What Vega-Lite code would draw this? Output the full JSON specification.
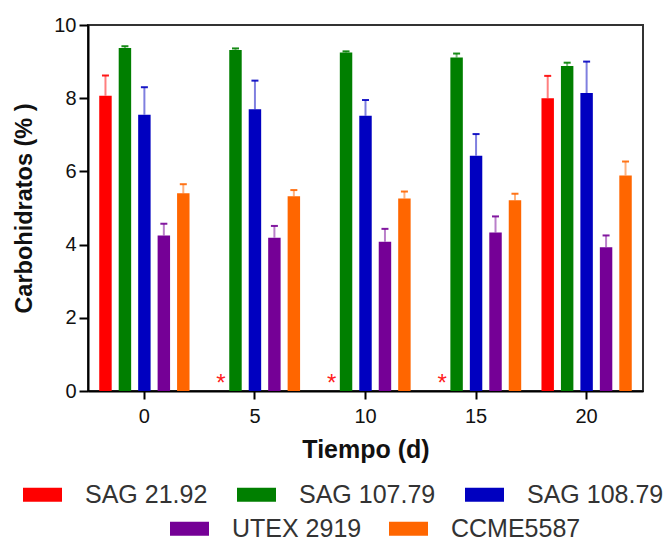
{
  "$schema": "https://vega.github.io/schema/vega-lite/v6.json",
  "width": 555,
  "height": 366,
  "autosize": {"type": "none"},
  "padding": {"left": 88, "top": 25, "right": 27, "bottom": 152},
  "background": "white",
  "config": {
    "font": "Liberation Sans",
    "view": {"stroke": "#333333", "strokeWidth": 2},
    "axis": {"grid": false, "domainColor": "#000000", "domainWidth": 2, "tickColor": "#000000", "tickWidth": 2, "labelColor": "#111111", "titleColor": "#111111", "labelFont": "Liberation Sans", "titleFont": "Liberation Sans"},
    "legend": {"labelFont": "Liberation Sans", "labelFontSize": 25, "labelColor": "#333333"}
  },
  "datasets": {
    "carb": [
      {"dia": 0, "cepa": "SAG 21.92", "valor": 8.07, "sup": 8.62},
      {"dia": 0, "cepa": "SAG 107.79", "valor": 9.37, "sup": 9.42},
      {"dia": 0, "cepa": "SAG 108.79", "valor": 7.55, "sup": 8.30},
      {"dia": 0, "cepa": "UTEX 2919", "valor": 4.25, "sup": 4.57},
      {"dia": 0, "cepa": "CCME5587", "valor": 5.40, "sup": 5.65},
      {"dia": 5, "cepa": "SAG 107.79", "valor": 9.32, "sup": 9.36},
      {"dia": 5, "cepa": "SAG 108.79", "valor": 7.70, "sup": 8.48},
      {"dia": 5, "cepa": "UTEX 2919", "valor": 4.19, "sup": 4.51},
      {"dia": 5, "cepa": "CCME5587", "valor": 5.32, "sup": 5.49},
      {"dia": 10, "cepa": "SAG 107.79", "valor": 9.25, "sup": 9.28},
      {"dia": 10, "cepa": "SAG 108.79", "valor": 7.52, "sup": 7.95},
      {"dia": 10, "cepa": "UTEX 2919", "valor": 4.08, "sup": 4.43},
      {"dia": 10, "cepa": "CCME5587", "valor": 5.26, "sup": 5.45},
      {"dia": 15, "cepa": "SAG 107.79", "valor": 9.11, "sup": 9.22},
      {"dia": 15, "cepa": "SAG 108.79", "valor": 6.43, "sup": 7.02},
      {"dia": 15, "cepa": "UTEX 2919", "valor": 4.33, "sup": 4.77},
      {"dia": 15, "cepa": "CCME5587", "valor": 5.21, "sup": 5.39},
      {"dia": 20, "cepa": "SAG 21.92", "valor": 8.00, "sup": 8.61},
      {"dia": 20, "cepa": "SAG 107.79", "valor": 8.88, "sup": 8.97},
      {"dia": 20, "cepa": "SAG 108.79", "valor": 8.14, "sup": 9.00},
      {"dia": 20, "cepa": "UTEX 2919", "valor": 3.93, "sup": 4.25},
      {"dia": 20, "cepa": "CCME5587", "valor": 5.89, "sup": 6.27}
    ],
    "ausente": [
      {"dia": 5, "cepa": "SAG 21.92"},
      {"dia": 10, "cepa": "SAG 21.92"},
      {"dia": 15, "cepa": "SAG 21.92"}
    ]
  },
  "encoding": {
    "x": {
      "field": "dia", "type": "ordinal",
      "scale": {"domain": [0, 5, 10, 15, 20], "paddingInner": 0.12, "paddingOuter": 0.07},
      "axis": {"title": "Tiempo (d)", "labelAngle": 0, "labelFontSize": 20, "labelPadding": 7, "tickSize": 8, "titleFontSize": 25, "titleFontWeight": "bold", "titlePadding": 11}
    },
    "xOffset": {
      "field": "cepa", "type": "nominal",
      "scale": {"domain": ["SAG 21.92", "SAG 107.79", "SAG 108.79", "UTEX 2919", "CCME5587"], "paddingInner": 0.36, "paddingOuter": 0.18}
    }
  },
  "layer": [
    {
      "data": {"name": "carb"},
      "transform": [{"filter": {"field": "cepa", "oneOf": ["SAG 21.92", "SAG 107.79", "SAG 108.79"]}}],
      "mark": {"type": "bar"},
      "encoding": {
        "y": {
          "field": "valor", "type": "quantitative",
          "scale": {"domain": [0, 10], "nice": false},
          "axis": {"title": "Carbohidratos (% )", "values": [0, 2, 4, 6, 8, 10], "labelFontSize": 20, "labelPadding": 3, "tickSize": 9, "titleFontSize": 23.5, "titleFontWeight": "bold", "titlePadding": 17}
        },
        "color": {
          "field": "cepa", "type": "nominal",
          "scale": {"domain": ["SAG 21.92", "SAG 107.79", "SAG 108.79"], "range": ["#FF0000", "#007F00", "#0000C0"]},
          "legend": {"title": null, "orient": "none", "legendX": -65, "legendY": 450, "direction": "horizontal", "symbolType": "M-1,-0.36H1V0.36H-1Z", "symbolSize": 1521, "symbolStrokeWidth": 0, "labelOffset": 23, "columnPadding": 29}
        }
      }
    },
    {
      "data": {"name": "carb"},
      "transform": [{"filter": {"field": "cepa", "oneOf": ["UTEX 2919", "CCME5587"]}}],
      "mark": {"type": "bar"},
      "encoding": {
        "y": {"field": "valor", "type": "quantitative"},
        "color": {
          "field": "cepa", "type": "nominal",
          "scale": {"domain": ["UTEX 2919", "CCME5587"], "range": ["#750096", "#FF6600"]},
          "legend": {"title": null, "orient": "none", "legendX": 82, "legendY": 484, "direction": "horizontal", "symbolType": "M-1,-0.36H1V0.36H-1Z", "symbolSize": 1521, "symbolStrokeWidth": 0, "labelOffset": 23, "columnPadding": 27}
        }
      }
    },
    {
      "data": {"name": "carb"},
      "mark": {"type": "rule", "strokeWidth": 2, "strokeOpacity": 0.5},
      "encoding": {
        "y": {"field": "valor", "type": "quantitative"},
        "y2": {"field": "sup"},
        "color": {
          "field": "cepa", "type": "nominal",
          "scale": {"domain": ["SAG 21.92", "SAG 107.79", "SAG 108.79", "UTEX 2919", "CCME5587"], "range": ["#FF0000", "#007F00", "#0000C0", "#750096", "#FF6600"]},
          "legend": null
        }
      }
    },
    {
      "data": {"name": "carb"},
      "mark": {"type": "tick", "thickness": 2, "size": 7, "opacity": 0.9},
      "encoding": {
        "y": {"field": "sup", "type": "quantitative"},
        "color": {
          "field": "cepa", "type": "nominal",
          "scale": {"domain": ["SAG 21.92", "SAG 107.79", "SAG 108.79", "UTEX 2919", "CCME5587"], "range": ["#FF0000", "#007F00", "#0000C0", "#750096", "#FF6600"]},
          "legend": null
        }
      }
    },
    {
      "data": {"name": "ausente"},
      "mark": {"type": "text", "text": "*", "color": "#FF2020", "fontSize": 24, "dx": 5, "dy": -7, "baseline": "middle"},
      "encoding": {
        "y": {"datum": 0, "type": "quantitative"}
      }
    }
  ],
  "resolve": {"scale": {"color": "independent"}}
}
